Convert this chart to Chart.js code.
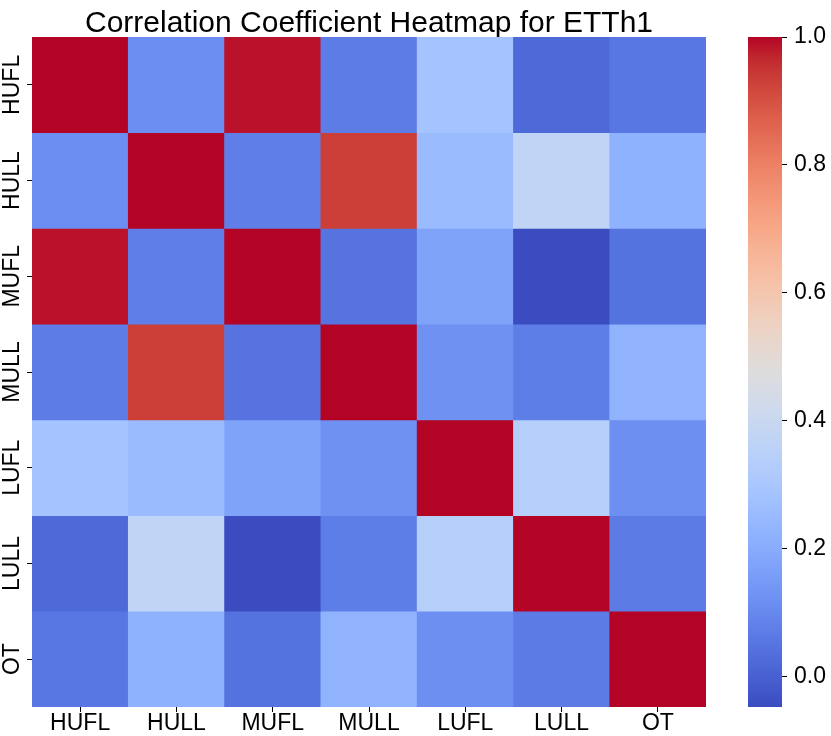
<!DOCTYPE html>
<html><head><meta charset="utf-8">
<script src="https://cdn.jsdelivr.net/npm/chart.js@4.4.1/dist/chart.umd.min.js"></script>
<style>
html,body{margin:0;padding:0;background:#fff;}
#wrap{position:relative;width:831px;height:736px;overflow:hidden;}
#heat{position:absolute;left:0;top:0;}
#cbar{position:absolute;left:700px;top:0;}
</style></head><body>
<div id="wrap"><canvas id="heat" width="831" height="736"></canvas><canvas id="cbar" width="131" height="736"></canvas></div>
<script>
// ---- data ----
const labels = ['HUFL', 'HULL', 'MUFL', 'MULL', 'LUFL', 'LULL', 'OT'];
const rowHUFL = [1.000, 0.115, 0.987, 0.068, 0.286, 0.021, 0.057];
const rowHULL = [0.115, 1.000, 0.074, 0.932, 0.256, 0.372, 0.221];
const rowMUFL = [0.987, 0.074, 1.000, 0.047, 0.176, -0.047, 0.045];
const rowMULL = [0.068, 0.932, 0.047, 1.000, 0.124, 0.073, 0.226];
const rowLUFL = [0.286, 0.256, 0.176, 0.124, 1.000, 0.340, 0.120];
const rowLULL = [0.021, 0.372, -0.047, 0.073, 0.340, 1.000, 0.066];
const rowOT   = [0.057, 0.221, 0.045, 0.226, 0.120, 0.066, 1.000];
const colorbarTicks = [0.0, 0.2, 0.4, 0.6, 0.8, 1.0];
const titleText = 'Correlation Coefficient Heatmap for ETTh1';

const matrix = [rowHUFL, rowHULL, rowMUFL, rowMULL, rowLUFL, rowLULL, rowOT];
const vmin = Math.min(...matrix.flat());
const vmax = Math.max(...matrix.flat());

// ---- coolwarm colormap (style) ----
const CMAP = [
[59,76,192],[68,90,204],[77,104,215],[87,117,225],[98,130,234],[108,142,241],[119,154,247],[130,165,251],
[141,176,254],[152,185,255],[163,194,255],[174,201,253],[184,208,249],[194,213,244],[204,217,238],[213,219,230],
[221,221,221],[229,216,209],[236,211,197],[241,204,184],[245,196,172],[247,187,159],[247,177,147],[247,166,134],
[244,154,123],[241,141,111],[236,127,99],[229,112,88],[222,96,77],[213,80,66],[203,62,56],[192,40,47],[180,4,38]];
function cmap(t) {
  t = Math.max(0, Math.min(1, t));
  const p = t * (CMAP.length - 1);
  const i = Math.min(Math.floor(p), CMAP.length - 2);
  const f = p - i;
  const a = CMAP[i], b = CMAP[i + 1];
  return 'rgb(' + [0,1,2].map(k => Math.round(a[k] + (b[k] - a[k]) * f)).join(',') + ')';
}
const colorOf = v => cmap((v - vmin) / (vmax - vmin));

const FONT = 'Liberation Sans, Arial, sans-serif';
Chart.defaults.font.family = FONT;
Chart.defaults.color = '#000';

// ---- heatmap ----
new Chart(document.getElementById('heat'), {
  type: 'bar',
  data: {
    labels: labels,
    datasets: matrix.map((row, r) => ({
      label: labels[r],
      data: row.map(() => 1),
      backgroundColor: row.map(colorOf),
      borderWidth: 0,
      barPercentage: 1.0,
      categoryPercentage: 1.0
    }))
  },
  options: {
    responsive: false,
    animation: false,
    devicePixelRatio: 1,
    layout: { padding: { left: 0, right: 125, top: 0, bottom: 0 } },
    plugins: {
      legend: { display: false },
      tooltip: { enabled: false },
      title: {
        display: true,
        text: titleText,
        fullSize: false,
        color: '#000',
        font: { family: FONT, size: 30, weight: 'normal', lineHeight: 1 },
        padding: { top: 9, bottom: -2 }
      }
    },
    scales: {
      x: {
        stacked: true,
        offset: true,
        grid: { display: true, drawOnChartArea: false, drawTicks: true, tickLength: 5, tickColor: '#000', tickWidth: 1, offset: false },
        border: { display: false },
        ticks: { color: '#000', font: { family: FONT, size: 23, lineHeight: 1 }, padding: 0, maxRotation: 0, minRotation: 0 },
        afterFit: s => { s.height = 29; }
      },
      y: {
        stacked: true,
        min: 0, max: labels.length,
        reverse: true,
        afterBuildTicks: s => { s.ticks = labels.map((_, i) => ({ value: i + 0.5 })); },
        grid: { display: true, drawOnChartArea: false, drawTicks: true, tickLength: 5, tickColor: '#000', tickWidth: 1 },
        border: { display: false },
        ticks: {
          color: '#000', font: { family: FONT, size: 23, lineHeight: 1 },
          minRotation: 90, maxRotation: 90, crossAlign: 'center', padding: -17,
          callback: (v) => labels[Math.floor(v)]
        },
        afterFit: s => { s.width = 32; }
      }
    }
  }
});

// ---- colorbar ----
new Chart(document.getElementById('cbar'), {
  type: 'bar',
  data: {
    labels: ['scale'],
    datasets: [{
      data: [[vmin, vmax]],
      borderWidth: 0,
      barPercentage: 1.0,
      categoryPercentage: 1.0,
      backgroundColor: (ctx) => {
        const a = ctx.chart.chartArea;
        if (!a) return '#888';
        const g = ctx.chart.ctx.createLinearGradient(0, a.bottom, 0, a.top);
        CMAP.forEach((c, i) => g.addColorStop(i / (CMAP.length - 1), 'rgb(' + c.join(',') + ')'));
        return g;
      }
    }]
  },
  options: {
    responsive: false,
    animation: false,
    devicePixelRatio: 1,
    layout: { padding: { left: 48, right: 0, top: 37, bottom: 29 } },
    plugins: { legend: { display: false }, tooltip: { enabled: false }, title: { display: false } },
    scales: {
      x: { display: false },
      y: {
        position: 'right',
        min: vmin, max: vmax,
        afterBuildTicks: s => { s.ticks = colorbarTicks.map(v => ({ value: v })); },
        grid: { display: true, drawOnChartArea: false, drawTicks: true, tickLength: 5, tickColor: '#000', tickWidth: 1 },
        border: { display: false },
        ticks: { color: '#000', font: { family: FONT, size: 23, lineHeight: 1 }, padding: 7, callback: v => v.toFixed(1) },
        afterFit: s => { s.width = 49; }
      }
    }
  }
});
</script>
</body></html>
